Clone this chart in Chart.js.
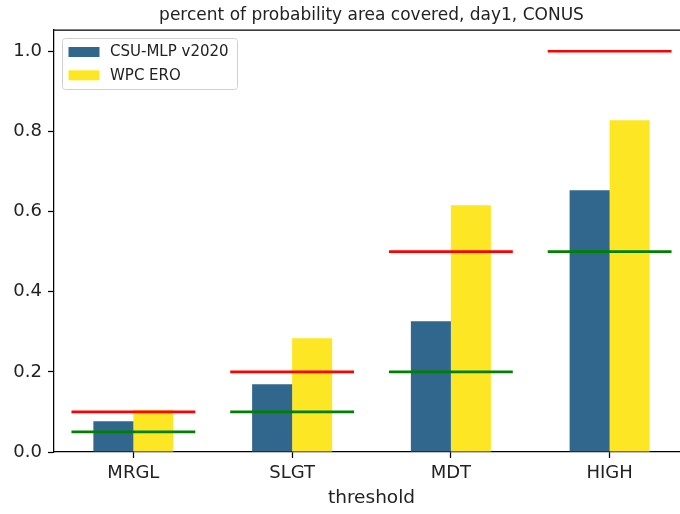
<!DOCTYPE html>
<html>
<head>
<meta charset="utf-8">
<script src="https://cdn.jsdelivr.net/npm/chart.js@4"></script>
<style>
  html, body { margin: 0; padding: 0; background: #fff; overflow: hidden; }
  #wrap { position: absolute; left: 0; top: 0; width: 700px; height: 514px; }
</style>
</head>
<body>
<div id="wrap"><canvas id="c"></canvas></div>
<script>
// Risk thresholds on the x axis
const categories = ['MRGL', 'SLGT', 'MDT', 'HIGH'];
// Fraction of the probability area covered, per product
const csuValues = [0.077, 0.169, 0.326, 0.653];
const wpcValues = [0.105, 0.284, 0.616, 0.828];
// Expected upper and lower bounds for each threshold
const upperBounds = [0.1, 0.2, 0.5, 1.0];
const lowerBounds = [0.05, 0.1, 0.2, 0.5];
// Y axis tick values
const yTicks = [0.0, 0.2, 0.4, 0.6, 0.8, 1.0];

const titleText = 'percent of probability area covered, day1, CONUS';
const FONT = '"DejaVu Sans", sans-serif';
const Y_MAX = 1.053;

// Thin floating bar centred on each bound value: a horizontal rule across the slot
const RULE_HALF = 0.0034;
function rules(values) {
  return values.map(v => [v - RULE_HALF, v + RULE_HALF]);
}

// Frame (top/right spines), title and boxed legend
const decorations = {
  id: 'decorations',
  afterDatasetsDraw(chart) {
    const { ctx, chartArea: a } = chart;
    ctx.save();
    ctx.strokeStyle = '#000';
    ctx.lineWidth = 1.25;
    ctx.beginPath();
    ctx.moveTo(a.left, a.top);
    ctx.lineTo(a.right, a.top);
    ctx.lineTo(a.right, a.bottom);
    ctx.stroke();

    ctx.fillStyle = '#222';
    ctx.font = '17px ' + FONT;
    ctx.textAlign = 'center';
    ctx.textBaseline = 'alphabetic';
    ctx.fillText(titleText, (a.left + a.right) / 2, 20);

    // legend box
    const bx = 62.5, by = 38.5, bw = 175, bh = 51, r = 3;
    ctx.beginPath();
    ctx.moveTo(bx + r, by);
    ctx.arcTo(bx + bw, by, bx + bw, by + bh, r);
    ctx.arcTo(bx + bw, by + bh, bx, by + bh, r);
    ctx.arcTo(bx, by + bh, bx, by, r);
    ctx.arcTo(bx, by, bx + bw, by, r);
    ctx.closePath();
    ctx.fillStyle = 'rgba(255,255,255,0.8)';
    ctx.fill();
    ctx.strokeStyle = '#d0d0d0';
    ctx.lineWidth = 1;
    ctx.stroke();

    const items = chart.data.datasets.filter(d => d.inLegend);
    ctx.font = '15px ' + FONT;
    ctx.textAlign = 'left';
    ctx.textBaseline = 'middle';
    items.forEach((d, k) => {
      const y = 47 + k * 23.3;
      ctx.fillStyle = d.backgroundColor;
      ctx.fillRect(68.5, y, 31, 10);
      ctx.fillStyle = '#222';
      ctx.fillText(d.label, 110, y + 5.5);
    });
    ctx.restore();
  }
};

new Chart(document.getElementById('c'), {
  type: 'bar',
  data: {
    labels: categories,
    datasets: [
      { label: 'CSU-MLP v2020', data: csuValues, backgroundColor: '#31678d', inLegend: true,
        categoryPercentage: 0.504, barPercentage: 1.0, order: 2 },
      { label: 'WPC ERO', data: wpcValues, backgroundColor: '#fde725', inLegend: true,
        categoryPercentage: 0.504, barPercentage: 1.0, order: 2 },
      { label: 'upper bound', data: rules(upperBounds), backgroundColor: '#ff0000',
        grouped: false, categoryPercentage: 0.78, barPercentage: 1.0, borderWidth: 0, order: 1 },
      { label: 'lower bound', data: rules(lowerBounds), backgroundColor: '#008000',
        grouped: false, categoryPercentage: 0.78, barPercentage: 1.0, borderWidth: 0, order: 1 }
    ]
  },
  options: {
    responsive: true,
    maintainAspectRatio: false,
    animation: false,
    layout: { padding: { top: 30, right: 11, bottom: 0, left: 0 } },
    plugins: { legend: { display: false }, tooltip: { enabled: false }, title: { display: false } },
    scales: {
      x: {
        type: 'category',
        offset: true,
        grid: { display: true, offset: false, drawOnChartArea: false, drawTicks: true, tickLength: 6,
                tickColor: '#000', tickWidth: 1.25 },
        border: { display: true, color: '#000', width: 1.25 },
        ticks: { color: '#222', font: { family: FONT, size: 18 }, padding: 5, maxRotation: 0 },
        title: { display: true, text: 'threshold', color: '#222',
                 font: { family: FONT, size: 18.5 }, padding: { top: 0, bottom: 5 } },
        afterFit(scale) { scale.height = 62; }
      },
      y: {
        min: 0,
        max: Y_MAX,
        grid: { display: true, drawOnChartArea: false, drawTicks: true, tickLength: 6,
                tickColor: '#000', tickWidth: 1.25 },
        border: { display: true, color: '#000', width: 1.25 },
        ticks: { color: '#222', font: { family: FONT, size: 18 }, padding: 6,
                 callback: v => Number(v).toFixed(1) },
        afterBuildTicks(scale) { scale.ticks = yTicks.map(v => ({ value: v })); },
        afterFit(scale) { scale.width = 54; }
      }
    }
  },
  plugins: [decorations]
});
</script>
</body>
</html>
